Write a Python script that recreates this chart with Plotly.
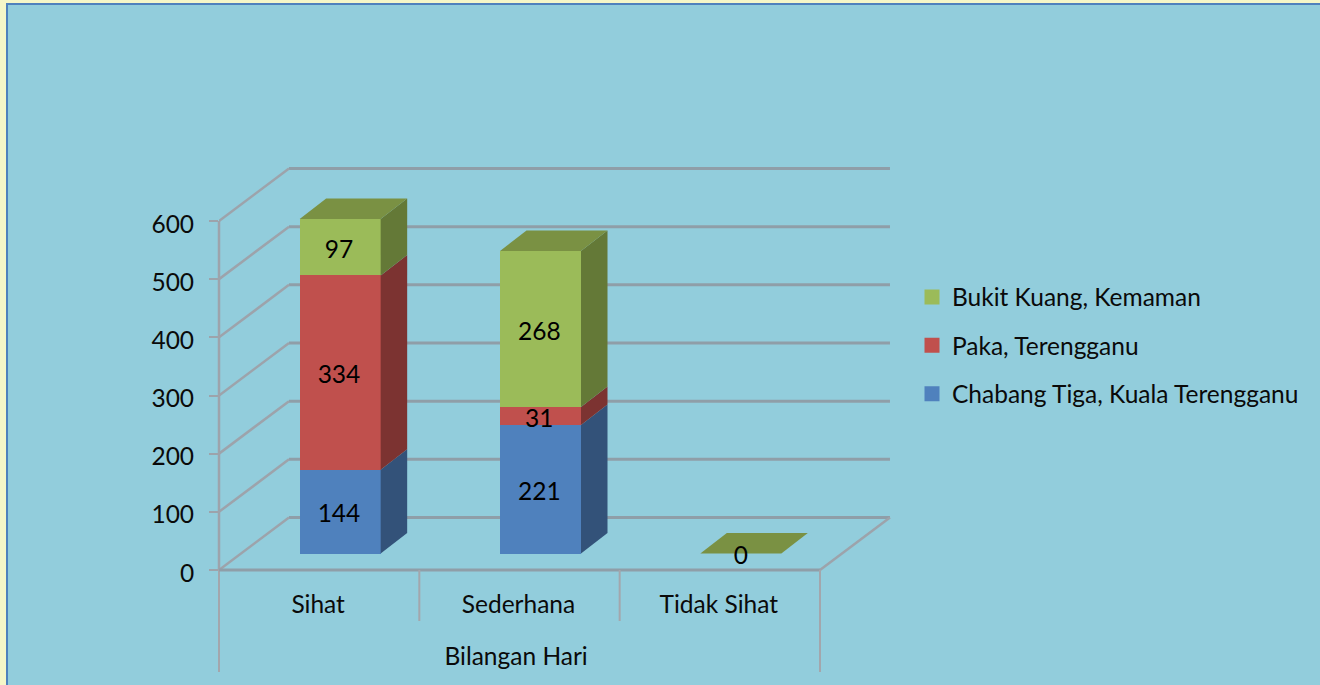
import plotly.graph_objects as go

categories = ["Sihat", "Sederhana", "Tidak Sihat"]
group_label = "Bilangan Hari"
chabang = [144, 221, 0]
paka = [334, 31, 0]
bukit = [97, 268, 0]
tick_vals = [0, 100, 200, 300, 400, 500, 600]

series = [
    ("Chabang Tiga, Kuala Terengganu", chabang, "#4F81BD", "#335279", "#3F6797"),
    ("Paka, Terengganu", paka, "#C0504D", "#7C3331", "#994040"),
    ("Bukit Kuang, Kemaman", bukit, "#9BBB59", "#647937", "#7A9143"),
]

FONT = "Lato"
FS = 24.5
INK = "#0A0A0A"
W, H = 1320, 685
L, R, T, B = 219, 895, 160, 680          # plot area in page pixels
Y0 = 570                                 # page row of the value 0
PX_X = 200.33                            # pixels per category
PX_Y = 349 / 600                         # pixels per unit
x_range = [0, (R - L) / PX_X]
y_range = [-(B - Y0) / PX_Y, (Y0 - T) / PX_Y]

wall_dx, wall_dy = 70 / PX_X, 52.5 / PX_Y  # depth of the whole chart box
bar_dx, bar_dy = 26.5 / PX_X, 20.5 / PX_Y  # depth of a bar
bar_w = 81 / PX_X
bar_shift = 0.5 + 21 / PX_X               # bar centre inside a category
bar_base = 16.5 / PX_Y                    # bars stand a little back on the floor
text_nudge = 4.5 / PX_Y                   # value labels sit slightly lower
text_left = 1.2 / PX_X                    # and slightly left of the bar centre

GRID = "#8F9EA8"
DIAG = "#9DA3AB"
SEP = "#A3A6AC"


def px(x):
    return (x - L) / (R - L)


def py(y):
    return (B - y) / (B - T)


shapes = [
    dict(type="rect", xref="paper", yref="paper", x0=px(7), x1=px(W + 10), y0=py(4), y1=py(H + 10),
         fillcolor="#92CDDC", line=dict(color="#4F81BD", width=2), layer="below"),
]


def seg(x0, y0, x1, y1, color, width, xref="x"):
    shapes.append(dict(type="line", xref=xref, yref="y", x0=x0, y0=y0, x1=x1, y1=y1,
                       line=dict(color=color, width=width), layer="below"))


for v in tick_vals:
    seg(wall_dx, v + wall_dy, len(categories) + wall_dx, v + wall_dy, GRID, 3)
    seg(0, v, wall_dx, v + wall_dy, DIAG, 2.5)
seg(0, 0, len(categories), 0, GRID, 3)
seg(len(categories), 0, len(categories) + wall_dx, wall_dy, DIAG, 2.5)
seg(0, 0, 0, 600, DIAG, 2.5, xref="paper")
low = -(672 - Y0) / PX_Y
sep_low = -(621 - Y0) / PX_Y
seg(0, low, 0, 0, SEP, 2, xref="paper")
seg(len(categories), low, len(categories), 0, SEP, 2)
for i in range(1, len(categories)):
    seg(i, sep_low, i, 0, SEP, 2)

fig = go.Figure()

# front faces, stacked on the computed base
bases = [bar_base] * len(categories)
centres = [i + bar_shift for i in range(len(categories))]
label_x, label_y, label_t = [], [], []
for name, vals, col, side, top in series:
    fig.add_trace(go.Bar(x=centres, y=vals, base=list(bases), width=bar_w, name=name,
                         marker=dict(color=col, line=dict(width=0)), showlegend=False, hoverinfo="y"))
    for i, v in enumerate(vals):
        xr = centres[i] + bar_w / 2
        b = bases[i]
        if v > 0:
            fig.add_trace(go.Scatter(
                x=[xr, xr + bar_dx, xr + bar_dx, xr, xr],
                y=[b, b + bar_dy, b + v + bar_dy, b + v, b],
                mode="lines", fill="toself", fillcolor=side, line=dict(width=0),
                showlegend=False, hoverinfo="skip"))
            label_x.append(centres[i] - text_left)
            label_y.append(b + v / 2 - text_nudge)
            label_t.append(str(v))
        bases[i] = b + v

# top faces of the stack take the colour of the last series
top_color = series[-1][4]
for i, c in enumerate(centres):
    xl, xr, t = c - bar_w / 2, c + bar_w / 2, bases[i]
    fig.add_trace(go.Scatter(
        x=[xl, xr, xr + bar_dx, xl + bar_dx, xl],
        y=[t, t, t + bar_dy, t + bar_dy, t],
        mode="lines", fill="toself", fillcolor=top_color, line=dict(width=0),
        showlegend=False, hoverinfo="skip"))
    if bases[i] == bar_base:
        label_x.append(c)
        label_y.append(t - text_nudge)
        label_t.append("0")

fig.add_trace(go.Scatter(x=label_x, y=label_y, text=label_t, mode="text",
                         textposition="middle center", textfont=dict(family=FONT, size=FS, color="#000000"),
                         showlegend=False, hoverinfo="skip", cliponaxis=False))

# category and group labels
fig.add_trace(go.Scatter(
    x=[i + 0.495 for i in range(len(categories))] + [len(categories) / 2 - 0.017],
    y=[-63.6] * len(categories) + [-153],
    text=categories + [group_label], mode="text", textposition="middle center",
    textfont=dict(family=FONT, size=FS, color=INK), showlegend=False, hoverinfo="skip", cliponaxis=False))

# legend entries
for name, vals, col, side, top in reversed(series):
    fig.add_trace(go.Scatter(x=[None], y=[None], mode="markers", name=name, legendgroup=name,
                             marker=dict(symbol="square", size=15, color=col, line=dict(width=0))))

fig.update_layout(
    width=W, height=H,
    margin=dict(l=L, r=W - R, t=T, b=H - B, pad=0, autoexpand=False),
    paper_bgcolor="#F5F6C8", plot_bgcolor="rgba(0,0,0,0)",
    barmode="overlay", bargap=0,
    font=dict(family=FONT, size=FS, color=INK),
    shapes=shapes,
    xaxis=dict(range=x_range, visible=False, fixedrange=True),
    yaxis=dict(range=y_range, tickvals=tick_vals, ticktext=[str(v) for v in tick_vals],
               showgrid=False, zeroline=False, showline=False, ticks="outside", ticklen=9, tickwidth=2,
               tickcolor=DIAG, ticklabelstandoff=10, ticklabelshift=3,
               tickfont=dict(family=FONT, size=FS, color=INK), fixedrange=True),
    legend=dict(x=px(912), y=py(274.5), xanchor="left", yanchor="top", bgcolor="rgba(0,0,0,0)",
                traceorder="grouped", tracegroupgap=13.5, font=dict(family=FONT, size=FS, color=INK),
                itemclick=False, itemdoubleclick=False),
)

fig.write_html("out.html", config={"displayModeBar": False},
               post_script="document.body.style.margin='0';document.body.style.overflow='hidden';")
